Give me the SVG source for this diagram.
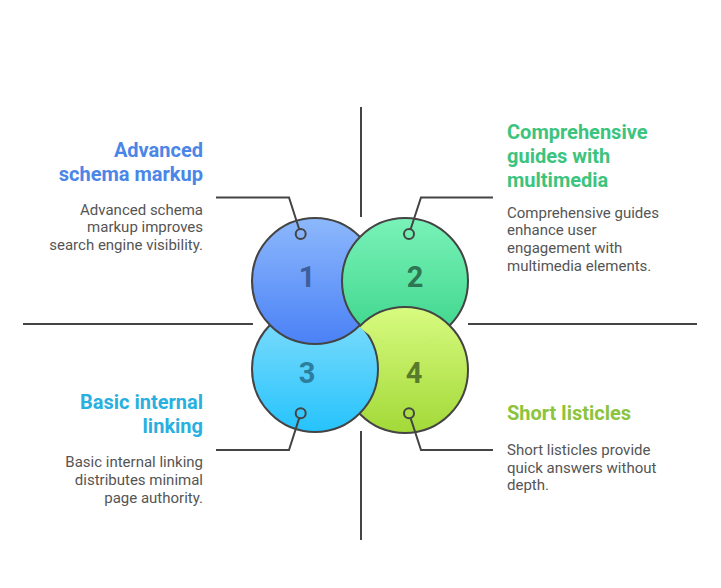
<svg xmlns="http://www.w3.org/2000/svg" width="721" height="588" viewBox="0 0 721 588">
<style>
.ring{stroke:#444;stroke-width:2}
.num{font-family:Roboto,"Liberation Sans",sans-serif;font-weight:700;font-size:29px;text-anchor:middle}
.ttl{font-family:Roboto,"Liberation Sans",sans-serif;font-weight:700;font-size:20px}
.dsc{font-family:Roboto,"Liberation Sans",sans-serif;font-size:15px;fill:#555}
.end{text-anchor:end}
.mk{fill:none;stroke:#444;stroke-width:2}
.ln{fill:none;stroke:#444;stroke-width:2}
</style>
<defs>
<linearGradient id="g1" x1="0" y1="0" x2="0" y2="1"><stop offset="0" stop-color="#8db8fc"/><stop offset="1" stop-color="#4a81f6"/></linearGradient>
<linearGradient id="g2" x1="0" y1="0" x2="0" y2="1"><stop offset="0" stop-color="#7af2b8"/><stop offset="1" stop-color="#3bd48a"/></linearGradient>
<linearGradient id="g3" x1="0" y1="0" x2="0" y2="1"><stop offset="0" stop-color="#84defc"/><stop offset="1" stop-color="#26c3fc"/></linearGradient>
<linearGradient id="g4" x1="0" y1="0" x2="0" y2="1"><stop offset="0" stop-color="#d8fb80"/><stop offset="1" stop-color="#a2d938"/></linearGradient>
<clipPath id="c2"><circle cx="405" cy="281" r="64.6"/></clipPath>
</defs>
<g id="axes">
<line class="ln" x1="361" y1="107" x2="361" y2="217"/>
<line class="ln" x1="361" y1="431" x2="361" y2="540"/>
<line class="ln" x1="23" y1="324" x2="253" y2="324"/>
<line class="ln" x1="468" y1="324" x2="697" y2="324"/>
</g>
<g id="node4">
<circle id="c4" class="ring" cx="405" cy="370" r="63" fill="url(#g4)"/>
<text class="num" x="414" y="383" fill="#587a2b">4</text>
<circle class="mk" cx="409" cy="413.3" r="5"/>
<text class="ttl" x="507" y="420" fill="#8cc43c">Short listicles</text>
<text class="dsc" x="507" y="455">Short listicles provide</text>
<text class="dsc" x="507" y="472.7">quick answers without</text>
<text class="dsc" x="507" y="490.4">depth.</text>
</g>
<g id="node3">
<circle class="ring" cx="315" cy="369" r="63" fill="url(#g3)"/>
<text class="num" x="307" y="383" fill="#2b7e9e">3</text>
<circle class="mk" cx="300.7" cy="413.3" r="5"/>
<text class="ttl end" x="203" y="408.5" fill="#29b0e0">Basic internal</text>
<text class="ttl end" x="203" y="432.7" fill="#29b0e0">linking</text>
<text class="dsc end" x="203" y="467.3">Basic internal linking</text>
<text class="dsc end" x="203" y="485">distributes minimal</text>
<text class="dsc end" x="203" y="502.7">page authority.</text>
</g>
<g id="node1">
<circle class="ring" cx="315" cy="281" r="63" fill="url(#g1)"/>
<text class="num" x="307" y="287" fill="#3f5f9c">1</text>
<circle class="mk" cx="300.7" cy="234" r="5"/>
<text class="ttl end" x="203" y="156.7" fill="#4a86e8">Advanced</text>
<text class="ttl end" x="203" y="180.7" fill="#4a86e8">schema markup</text>
<text class="dsc end" x="203" y="214.7">Advanced schema</text>
<text class="dsc end" x="203" y="232.4">markup improves</text>
<text class="dsc end" x="203" y="250.1">search engine visibility.</text>
</g>
<g id="node2">
<circle class="ring" cx="405" cy="281" r="63" fill="url(#g2)"/>
<text class="num" x="415" y="287" fill="#2e7552">2</text>
<circle class="mk" cx="409" cy="234" r="5"/>
<text class="ttl" x="507" y="139.3" fill="#3cc47e">Comprehensive</text>
<text class="ttl" x="507" y="163.3" fill="#3cc47e">guides with</text>
<text class="ttl" x="507" y="187.3" fill="#3cc47e">multimedia</text>
<text class="dsc" x="507" y="217.5">Comprehensive guides</text>
<text class="dsc" x="507" y="235.2">enhance user</text>
<text class="dsc" x="507" y="252.9">engagement with</text>
<text class="dsc" x="507" y="270.6">multimedia elements.</text>
</g>
<g id="overlap-4-over-2" clip-path="url(#c2)">
<use href="#c4"/>
</g>
<g id="connectors">
<polyline class="ln" points="299.2,229.2 289,197.5 216,197.5"/>
<polyline class="ln" points="410.6,229.2 421,197.5 493,197.5"/>
<polyline class="ln" points="299.2,418.1 289,450 216,450"/>
<polyline class="ln" points="410.6,418.1 421,450 493,450"/>
</g>
</svg>
